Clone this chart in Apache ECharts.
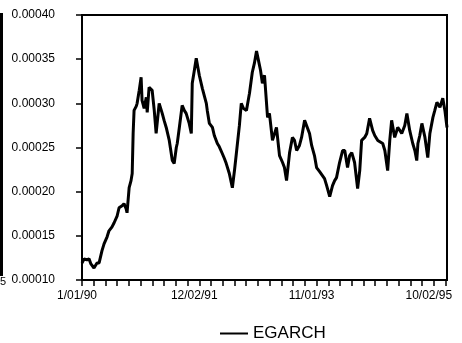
<!DOCTYPE html>
<html>
<head>
<meta charset="utf-8">
<script src="https://cdn.jsdelivr.net/npm/echarts@6/dist/echarts.min.js"></script>
<style>
  html, body { margin: 0; padding: 0; background: #fff; }
  #chart { width: 462px; height: 343px; }
</style>
</head>
<body>
<div id="chart"></div>
<script>
const obs = [0, 9, 21, 30, 38, 51, 64, 73, 85, 94, 107, 115, 128, 137, 150, 158, 171, 179, 188, 192,
  201, 209, 214, 218, 222, 231, 235, 244, 252, 256, 265, 274, 278, 286, 299, 308, 316, 329, 342, 350,
  359, 372, 385, 393, 402, 406, 415, 427, 436, 444, 457, 466, 470, 479, 487, 500, 513, 521, 530, 534,
  543, 556, 564, 577, 585, 598, 607, 615, 628, 641, 650, 658, 671, 679, 688, 701, 714, 726, 735, 744,
  752, 761, 769, 778, 791, 799, 812, 820, 829, 842, 855, 863, 872, 876, 885, 897, 906, 915, 927, 936,
  949, 957, 970, 979, 991, 1000, 1013, 1021, 1034, 1043, 1056, 1068, 1077, 1085, 1098, 1111, 1120, 1132, 1141, 1150,
  1162, 1175, 1184, 1192, 1205, 1214, 1226, 1239, 1248, 1261, 1269, 1282, 1291, 1303, 1312, 1320, 1333, 1346, 1355, 1363,
  1376, 1385, 1397, 1410, 1419, 1427, 1432, 1440, 1449, 1462, 1474, 1483, 1496, 1504, 1513, 1526, 1538, 1547, 1556]

// values in units of 1e-5
const egarch = [11.93, 12.39, 12.27, 12.39, 11.82, 11.36, 11.93, 11.93, 13.30, 14.09, 14.89, 15.57, 16.02, 16.48, 17.27, 18.18, 18.41, 18.64, 18.07, 17.61,
  20.45, 21.25, 22.05, 26.59, 29.20, 29.66, 30.00, 31.48, 32.95, 30.34, 29.43, 30.68, 28.98, 31.82, 31.48, 29.20, 26.59, 30.00, 28.86, 28.07,
  27.27, 25.80, 23.52, 23.18, 25.00, 25.45, 27.27, 29.77, 29.20, 28.86, 27.73, 26.59, 32.27, 33.75, 35.11, 33.18, 31.70, 31.48, 30.00, 29.20,
  27.73, 27.27, 26.36, 25.45, 25.11, 24.32, 23.75, 23.18, 22.05, 20.45, 22.39, 24.32, 27.50, 30.00, 29.43, 29.20, 31.14, 33.52, 34.55, 35.91,
  34.89, 33.75, 32.27, 33.18, 28.41, 28.86, 25.80, 25.80, 27.27, 24.09, 23.30, 22.73, 21.25, 21.25, 24.43, 26.14, 25.80, 24.66, 25.23, 26.14,
  28.07, 28.07, 26.59, 25.23, 24.09, 22.73, 22.27, 22.05, 21.48, 20.68, 19.43, 20.68, 21.25, 21.59, 23.30, 24.66, 24.66, 22.73, 24.09, 24.43,
  23.30, 20.34, 22.39, 25.80, 26.14, 26.59, 28.30, 26.93, 26.36, 25.80, 26.02, 25.45, 24.66, 22.39, 25.80, 28.07, 26.14, 27.27, 26.93, 26.59,
  27.50, 28.86, 26.93, 25.45, 24.66, 23.52, 25.45, 26.36, 27.73, 26.14, 23.86, 26.59, 28.41, 29.20, 30.11, 29.55, 30.57, 29.20, 27.27]

const tickObs = [0, 500, 1000, 1500]
const tickLabels = ['1/01/90', '12/02/91', '11/01/93', '10/02/95']

const chart = echarts.init(document.getElementById('chart'))

const labelFor = {}
tickObs.forEach((o, i) => { labelFor[o] = tickLabels[i] })

chart.setOption({
  animation: false,
  backgroundColor: '#fff',
  textStyle: { fontFamily: 'Liberation Sans, Arial, sans-serif', color: '#000' },
  grid: {
    left: 82, right: 15, top: 15, bottom: 63,
    show: true, borderColor: '#000', borderWidth: 2
  },
  legend: {
    left: 215, top: 320,
    itemWidth: 28, itemHeight: 10, itemGap: 5,
    icon: 'path://M0,4H28V6H0Z',
    textStyle: { fontSize: 17, color: '#000', fontFamily: 'Liberation Sans, Arial, sans-serif' },
    data: ['EGARCH']
  },
  xAxis: {
    type: 'value',
    min: 0, max: 1556, interval: 50,
    splitLine: { show: false },
    axisLine: { lineStyle: { color: '#000', width: 2 } },
    axisTick: { length: 6, lineStyle: { color: '#000', width: 1.5 } },
    axisLabel: {
      margin: 10, fontSize: 12, color: '#000',
      padding: [0, 10, 0, 0],
      showMaxLabel: false,
      formatter: v => labelFor[v] || ''
    }
  },
  yAxis: {
    type: 'value',
    min: 0.0001, max: 0.0004, interval: 0.00005,
    splitLine: { show: false },
    axisLine: { show: true, lineStyle: { color: '#000', width: 2 } },
    axisTick: { show: true, length: 6, lineStyle: { color: '#000', width: 1.5 } },
    axisLabel: {
      margin: 27, fontSize: 12, color: '#000',
      formatter: v => v.toFixed(5)
    }
  },
  graphic: [
    { type: 'rect', shape: { x: 0, y: 13, width: 3, height: 263 }, style: { fill: '#000' } },
    { type: 'text', left: 0, top: 276, style: { text: '5', fontSize: 11, fill: '#000', fontFamily: 'Liberation Sans, Arial, sans-serif' } }
  ],
  series: [{
    name: 'EGARCH',
    type: 'line',
    showSymbol: false,
    color: '#000',
    lineStyle: { color: '#000', width: 3 },
    data: obs.map((o, i) => [o, egarch[i] * 1e-5])
  }]
})
</script>
</body>
</html>
